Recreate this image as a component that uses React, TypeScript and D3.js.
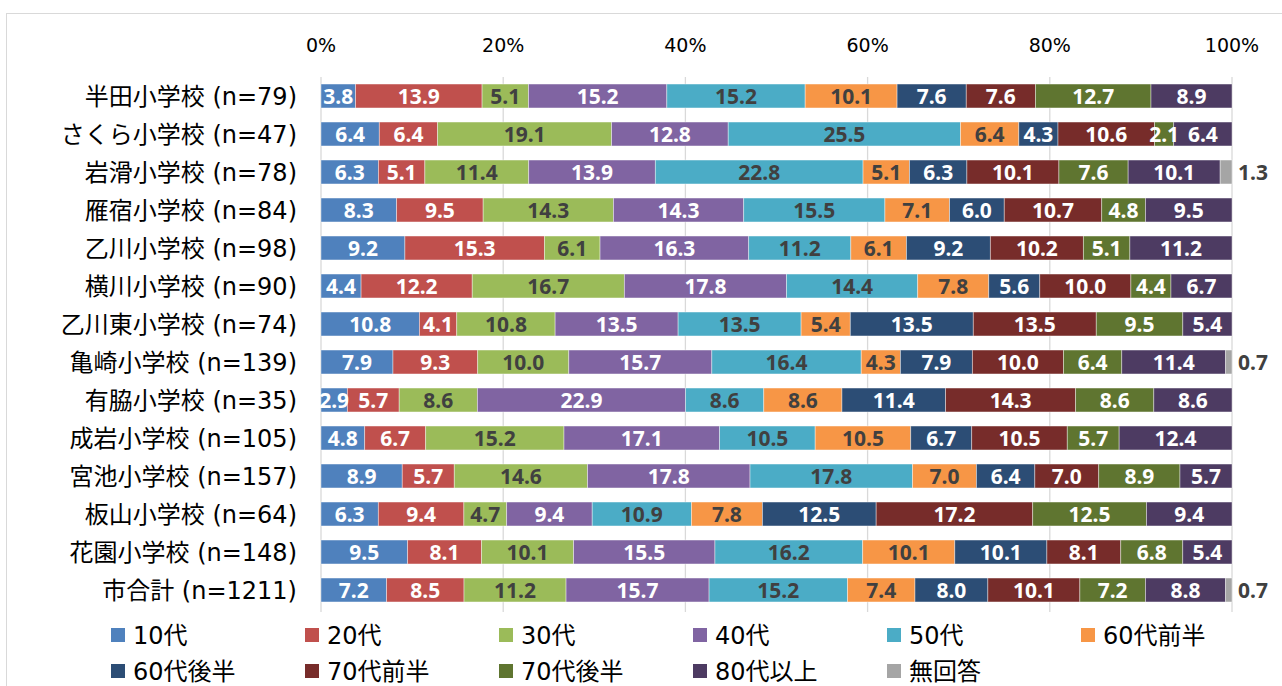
import React, { useEffect, useRef } from 'react';
import * as d3 from 'd3';

const schools = [
  '半田小学校 (n=79)',
  'さくら小学校 (n=47)',
  '岩滑小学校 (n=78)',
  '雁宿小学校 (n=84)',
  '乙川小学校 (n=98)',
  '横川小学校 (n=90)',
  '乙川東小学校 (n=74)',
  '亀崎小学校 (n=139)',
  '有脇小学校 (n=35)',
  '成岩小学校 (n=105)',
  '宮池小学校 (n=157)',
  '板山小学校 (n=64)',
  '花園小学校 (n=148)',
  '市合計 (n=1211)',
];

const ageGroups = ['10代', '20代', '30代', '40代', '50代', '60代前半', '60代後半', '70代前半', '70代後半', '80代以上', '無回答'];

// one row per school, columns follow ageGroups
const values: number[][] = [
  [3.8, 13.9, 5.1, 15.2, 15.2, 10.1, 7.6, 7.6, 12.7, 8.9, 0],
  [6.4, 6.4, 19.1, 12.8, 25.5, 6.4, 4.3, 10.6, 2.1, 6.4, 0],
  [6.3, 5.1, 11.4, 13.9, 22.8, 5.1, 6.3, 10.1, 7.6, 10.1, 1.3],
  [8.3, 9.5, 14.3, 14.3, 15.5, 7.1, 6.0, 10.7, 4.8, 9.5, 0],
  [9.2, 15.3, 6.1, 16.3, 11.2, 6.1, 9.2, 10.2, 5.1, 11.2, 0],
  [4.4, 12.2, 16.7, 17.8, 14.4, 7.8, 5.6, 10.0, 4.4, 6.7, 0],
  [10.8, 4.1, 10.8, 13.5, 13.5, 5.4, 13.5, 13.5, 9.5, 5.4, 0],
  [7.9, 9.3, 10.0, 15.7, 16.4, 4.3, 7.9, 10.0, 6.4, 11.4, 0.7],
  [2.9, 5.7, 8.6, 22.9, 8.6, 8.6, 11.4, 14.3, 8.6, 8.6, 0],
  [4.8, 6.7, 15.2, 17.1, 10.5, 10.5, 6.7, 10.5, 5.7, 12.4, 0],
  [8.9, 5.7, 14.6, 17.8, 17.8, 7.0, 6.4, 7.0, 8.9, 5.7, 0],
  [6.3, 9.4, 4.7, 9.4, 10.9, 7.8, 12.5, 17.2, 12.5, 9.4, 0],
  [9.5, 8.1, 10.1, 15.5, 16.2, 10.1, 10.1, 8.1, 6.8, 5.4, 0],
  [7.2, 8.5, 11.2, 15.7, 15.2, 7.4, 8.0, 10.1, 7.2, 8.8, 0.7],
];

const tickValues = [0, 0.2, 0.4, 0.6, 0.8, 1];

const colors = ['#4F81BD', '#C0504D', '#9BBB59', '#8064A2', '#4BACC6', '#F79646', '#2C4D75', '#772C2A', '#5F7530', '#4D3B62', '#A5A5A5'];
const darkLabel = new Set(['30代', '50代', '60代前半']);

const App = () => {
  const ref = useRef<SVGSVGElement>(null);

  useEffect(() => {
    const svg = d3.select(ref.current);
    svg.selectAll('*').remove();

    const W = 1282;
    const H = 686;
    const font = '"DejaVu Sans", "Noto Sans CJK JP", sans-serif';
    const labelFont = '"Noto Sans", "Noto Sans CJK JP", sans-serif';

    // outer chart frame
    svg.append('rect')
      .attr('x', 6.5).attr('y', 13.5)
      .attr('width', W + 10).attr('height', H + 10)
      .attr('fill', '#fff').attr('stroke', '#d9d9d9');

    const x = d3.scaleLinear().domain([0, 1]).range([321, 1232]);
    const y = d3.scaleBand<string>()
      .domain(schools)
      .range([77, 609])
      .paddingInner(0.37)
      .paddingOuter(0.185);

    // gridlines
    svg.append('g')
      .selectAll('line')
      .data(tickValues)
      .enter()
      .append('line')
      .attr('x1', d => x(d)).attr('x2', d => x(d))
      .attr('y1', 77).attr('y2', 612)
      .attr('stroke', '#d9d9d9').attr('stroke-width', 1.3);

    // tick labels on top
    svg.append('g')
      .selectAll('text')
      .data(tickValues)
      .enter()
      .append('text')
      .attr('x', d => x(d))
      .attr('y', 45)
      .attr('dy', '0.35em')
      .attr('text-anchor', 'middle')
      .style('font-family', font)
      .style('font-size', '19px')
      .attr('fill', '#000')
      .text(d => `${Math.round(d * 100)}%`);

    // category labels
    svg.append('g')
      .selectAll('text')
      .data(schools)
      .enter()
      .append('text')
      .attr('x', 297)
      .attr('y', d => (y(d) as number) + y.bandwidth() / 2)
      .attr('dy', '0.36em')
      .attr('text-anchor', 'end')
      .style('font-family', font)
      .style('font-size', '24px')
      .attr('fill', '#000')
      .text(d => d);

    // stacked, normalized to 100%
    const rows = schools.map((s, i) => {
      const total = d3.sum(values[i]);
      let acc = 0;
      return values[i].map((v, j) => {
        const seg = { school: s, group: ageGroups[j], value: v, x0: acc / total, x1: (acc + v) / total };
        acc += v;
        return seg;
      });
    });
    const segs = rows.flat();

    svg.append('g')
      .selectAll('rect')
      .data(segs.filter(d => d.value > 0))
      .enter()
      .append('rect')
      .attr('x', d => x(d.x0))
      .attr('y', d => y(d.school) as number)
      .attr('width', d => x(d.x1) - x(d.x0))
      .attr('height', y.bandwidth())
      .attr('fill', d => colors[ageGroups.indexOf(d.group)])
      .attr('stroke', '#fff')
      .attr('stroke-opacity', 0.5)
      .attr('stroke-width', 0.8);

    // value labels
    svg.append('g')
      .selectAll('text')
      .data(segs.filter(d => d.value > 0))
      .enter()
      .append('text')
      .attr('x', d => (d.group === '無回答' ? x(1) + 6 : (x(d.x0) + x(d.x1)) / 2))
      .attr('y', d => (y(d.school) as number) + y.bandwidth() / 2)
      .attr('dy', '0.36em')
      .attr('text-anchor', d => (d.group === '無回答' ? 'start' : 'middle'))
      .style('font-family', labelFont)
      .style('font-size', '21px')
      .style('font-weight', 'bold')
      .attr('fill', d => (d.group === '無回答' || darkLabel.has(d.group) ? '#404040' : '#fff'))
      .text(d => d.value.toFixed(1));

    // legend
    const legend = svg.append('g')
      .selectAll('g')
      .data(ageGroups)
      .enter()
      .append('g')
      .attr('transform', (d, i) => `translate(${111 + (i % 6) * 194},${635 + Math.floor(i / 6) * 36})`);

    legend.append('rect')
      .attr('x', 0).attr('y', -7)
      .attr('width', 14).attr('height', 14)
      .attr('fill', (d, i) => colors[i]);

    legend.append('text')
      .attr('x', 22)
      .attr('y', 0)
      .attr('dy', '0.36em')
      .style('font-family', font)
      .style('font-size', '24px')
      .attr('fill', '#000')
      .text(d => d);
  }, []);

  return (
    <svg
      ref={ref}
      width={1282}
      height={686}
      style={{ position: 'absolute', left: 0, top: 0, background: '#fff' }}
    />
  );
};

export default App;
